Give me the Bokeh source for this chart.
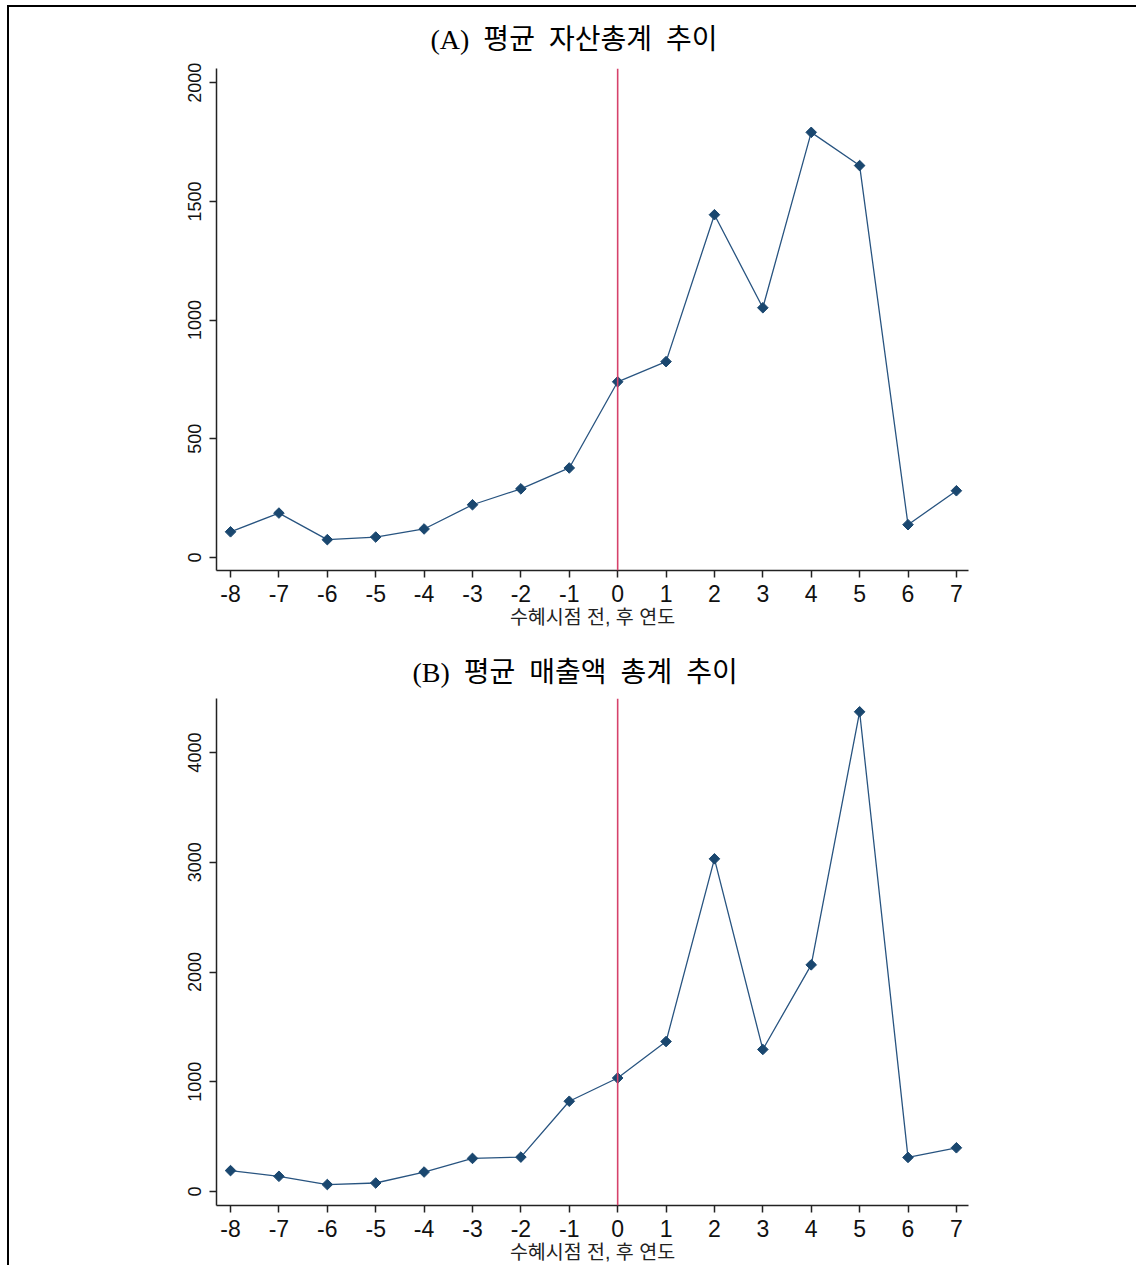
import math
from bokeh.plotting import figure
from bokeh.models import FixedTicker, Span, Range1d
from bokeh.layouts import column
from bokeh.embed import file_html
from bokeh.resources import INLINE

years = [-8, -7, -6, -5, -4, -3, -2, -1, 0, 1, 2, 3, 4, 5, 6, 7]
assets = [108, 187, 75, 86, 120, 222, 289, 377, 740, 825, 1444, 1052, 1791, 1651, 138, 281]
sales = [191, 139, 64, 78, 178, 302, 314, 823, 1035, 1367, 3032, 1295, 2066, 4372, 311, 399]
ticks_a = [0, 500, 1000, 1500, 2000]
ticks_b = [0, 1000, 2000, 3000, 4000]
title_a = "(A)\u2002평균\u2002자산총계\u2002추이"
title_b = "(B)\u2002평균\u2002매출액\u2002총계\u2002추이"
xlabel = "수혜시점 전, 후 연도"

NAVY = "#1a476f"
LINE = "#285480"
RED = "#d6426b"
TITLE_FONT = "Liberation Serif, Noto Sans CJK KR"
SANS = "Liberation Sans, Noto Sans CJK KR"


def make_panel(title, values, yticks, yr, height, top, bottom, standoff, toff):
    p = figure(width=1127, height=height, output_backend="svg", toolbar_location=None,
               x_range=Range1d(-8.29, 7.25), y_range=Range1d(*yr),
               min_border_left=207, min_border_right=168,
               min_border_top=top, min_border_bottom=bottom)
    p.title.text = title
    p.title.align = "left"
    p.title.offset = toff
    p.title.text_font = TITLE_FONT
    p.title.text_font_size = "28px"
    p.title.text_font_style = "normal"
    p.title.text_color = "black"
    p.title.standoff = standoff
    p.outline_line_color = None
    p.xgrid.visible = False
    p.ygrid.visible = False
    p.background_fill_color = "white"
    p.border_fill_color = "white"

    p.line(years, values, line_color=LINE, line_width=1.3)
    p.scatter(years, values, marker="square", angle=math.pi / 4, size=7.5,
              fill_color=NAVY, line_color=NAVY)
    p.add_layout(Span(location=0, dimension="height", line_color=RED, line_width=1.6))

    xa = p.xaxis[0]
    xa.ticker = FixedTicker(ticks=years)
    xa.major_label_overrides = {y: str(y) for y in years}
    xa.axis_label = xlabel
    xa.axis_label_text_font = SANS
    xa.axis_label_text_font_size = "19.5px"
    xa.axis_label_text_font_style = "normal"
    xa.axis_label_text_color = "#222222"
    xa.axis_label_standoff = 1
    xa.major_label_text_font = SANS
    xa.major_label_text_font_size = "23px"
    xa.major_label_text_color = "#111111"
    xa.major_label_standoff = 7

    ya = p.yaxis[0]
    ya.ticker = FixedTicker(ticks=yticks)
    ya.major_label_orientation = "vertical"
    ya.major_label_text_font = SANS
    ya.major_label_text_font_size = "18px"
    ya.major_label_text_color = "#111111"
    ya.major_label_standoff = 8

    for ax in (xa, ya):
        ax.axis_line_color = "#222222"
        ax.axis_line_width = 1.5
        ax.major_tick_line_color = "#222222"
        ax.major_tick_line_width = 1.5
        ax.major_tick_in = 0
        ax.major_tick_out = 7
        ax.minor_tick_line_color = None
    return p


pA = make_panel(title_a, assets, ticks_a, (-55, 2060), 633, 61, 70, 27, 214)
pB = make_panel(title_b, sales, ticks_b, (-127, 4493), 625, 58, 58, 21, 196)

layout = column(pA, pB, spacing=0,
                styles={"border-left": "2px solid black", "border-top": "2px solid black",
                        "margin-left": "7px", "margin-top": "5px"})

open("out.html", "w").write(file_html(layout, INLINE))
